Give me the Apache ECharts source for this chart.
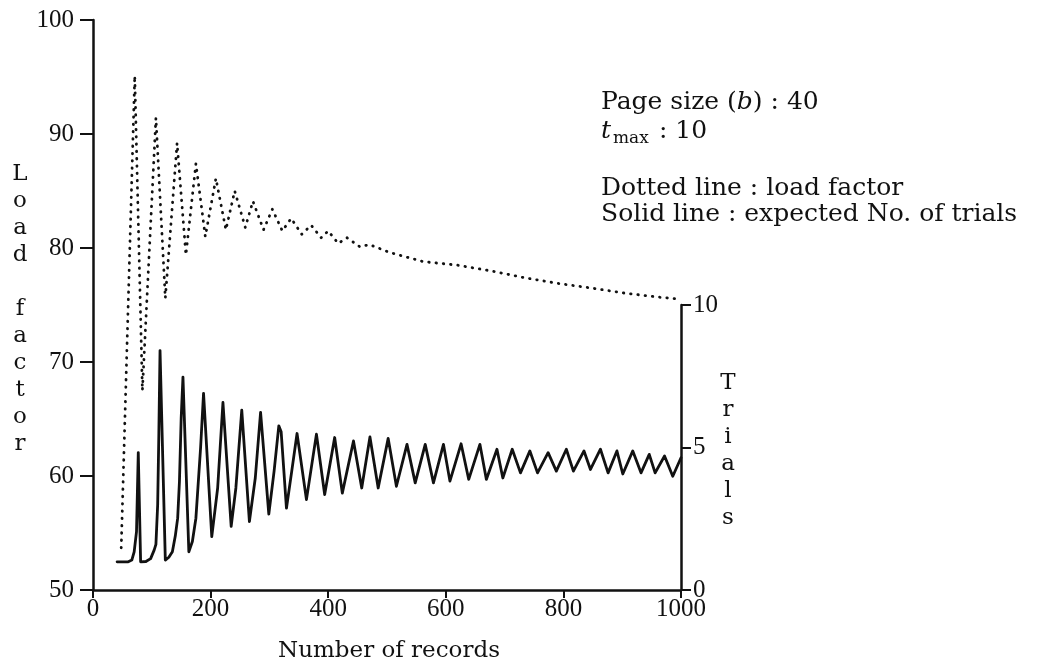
<!DOCTYPE html>
<html>
<head>
<meta charset="utf-8">
<script src="https://cdn.jsdelivr.net/npm/echarts@6/dist/echarts.min.js"></script>
<style>
  html, body { margin: 0; padding: 0; background: #fff; }
  #chart { width: 1040px; height: 667px; }
</style>
</head>
<body>
<div id="chart"></div>
<script>
// Load factor (dotted, left axis) against number of records
const loadRecords = [48, 71, 84, 107, 123, 143, 158, 175, 191, 209, 226, 241, 259, 272, 290, 305, 322, 337, 355, 371, 388, 400, 417, 432, 454, 470, 485, 505, 562, 619, 676, 733, 790, 846, 903, 960, 1000];
const loadFactor = [53.7, 95.1, 67.5, 91.4, 75.6, 89.2, 79.4, 87.4, 81.0, 86.1, 81.6, 85.0, 81.8, 84.1, 81.6, 83.4, 81.5, 82.6, 81.2, 82.0, 80.9, 81.5, 80.4, 80.9, 80.1, 80.3, 80.0, 79.6, 78.8, 78.5, 78.0, 77.4, 76.9, 76.5, 76.05, 75.7, 75.5];

// Expected number of trials (solid, right axis) against number of records
const trialRecords = [41, 60, 66, 70, 74, 77, 81, 90, 98, 104, 107, 110, 112, 114, 123, 129, 135, 140, 144, 147, 150, 153, 163, 169, 175, 183, 188, 202, 212, 221, 235, 243, 253, 266, 276, 285, 299, 308, 316, 320, 329, 338, 347, 363, 380, 394, 411, 424, 443, 457, 471, 485, 502, 516, 534, 548, 565, 579, 596, 607, 626, 639, 658, 669, 687, 697, 713, 727, 743, 756, 774, 788, 805, 817, 835, 846, 863, 876, 891, 901, 918, 932, 946, 956, 972, 986, 1000];
const trialValues = [0.99, 0.99, 1.05, 1.34, 2.05, 4.82, 0.99, 1.0, 1.1, 1.4, 1.6, 3.0, 5.5, 8.4, 1.05, 1.15, 1.34, 1.9, 2.52, 3.8, 6.05, 7.47, 1.34, 1.7, 2.52, 5.0, 6.9, 1.87, 3.58, 6.58, 2.23, 3.58, 6.31, 2.4, 3.93, 6.23, 2.66, 4.17, 5.76, 5.55, 2.87, 4.17, 5.49, 3.17, 5.47, 3.35, 5.35, 3.40, 5.23, 3.58, 5.37, 3.58, 5.32, 3.64, 5.11, 3.76, 5.11, 3.76, 5.11, 3.82, 5.13, 3.88, 5.11, 3.88, 4.94, 3.93, 4.94, 4.11, 4.88, 4.11, 4.82, 4.17, 4.94, 4.17, 4.88, 4.23, 4.94, 4.11, 4.88, 4.07, 4.88, 4.11, 4.76, 4.11, 4.70, 3.99, 4.64];

// Axis ranges and tick steps
const recordsRange = [0, 1000, 200];
const loadRange = [50, 100, 10];
const trialRange = [0, 10, 5];

const INK = '#111';
const TEXT_FONT = '"DejaVu Serif", serif';
const TICK_FONT = '"Liberation Serif", serif';

const loadData = loadRecords.map((x, i) => [x, loadFactor[i]]);
const trialData = trialRecords.map((x, i) => [x, trialValues[i]]);

const chart = echarts.init(document.getElementById('chart'), null, { renderer: 'canvas' });

const axisLine = { show: true, onZero: false, lineStyle: { color: INK, width: 2.5 } };
const tickLabel = { color: INK, fontFamily: TICK_FONT, fontSize: 25, formatter: v => String(v) };

chart.setOption({
  backgroundColor: '#fff',
  animation: false,
  grid: [
    { left: 93, right: 359, top: 20, bottom: 77 },
    { left: 93, right: 359, top: 305, bottom: 77 }
  ],
  xAxis: [
    {
      type: 'value', gridIndex: 0,
      min: recordsRange[0], max: recordsRange[1], interval: recordsRange[2],
      axisLine: axisLine,
      axisTick: { show: true, length: 8, lineStyle: { color: INK, width: 2 } },
      axisLabel: Object.assign({ margin: 7 }, tickLabel),
      splitLine: { show: false }
    },
    {
      type: 'value', gridIndex: 1, show: false,
      min: recordsRange[0], max: recordsRange[1]
    }
  ],
  yAxis: [
    {
      type: 'value', gridIndex: 0, position: 'left',
      min: loadRange[0], max: loadRange[1], interval: loadRange[2],
      axisLine: axisLine,
      axisTick: { show: true, length: 13, lineStyle: { color: INK, width: 2 } },
      axisLabel: Object.assign({ margin: 19 }, tickLabel),
      splitLine: { show: false }
    },
    {
      type: 'value', gridIndex: 1, position: 'right',
      min: trialRange[0], max: trialRange[1], interval: trialRange[2],
      axisLine: axisLine,
      axisTick: { show: true, length: 10, lineStyle: { color: INK, width: 2 } },
      axisLabel: Object.assign({ margin: 12 }, tickLabel),
      splitLine: { show: false }
    }
  ],
  series: [
    {
      name: 'load factor', type: 'line',
      xAxisIndex: 0, yAxisIndex: 0,
      data: loadData,
      showSymbol: false, silent: true,
      lineStyle: { color: INK, width: 2.8, type: [0.5, 6.8], cap: 'round', join: 'round' }
    },
    {
      name: 'expected No. of trials', type: 'line',
      xAxisIndex: 1, yAxisIndex: 1,
      data: trialData,
      showSymbol: false, silent: true,
      lineStyle: { color: INK, width: 2.8, join: 'round', cap: 'round' }
    }
  ],
  graphic: [
    // axis titles, one letter per line on the vertical axes
    {
      type: 'text', x: 20, y: 309,
      style: {
        text: 'Load factor'.split('').join('\n'),
        fill: INK, fontFamily: TEXT_FONT, fontSize: 23, lineHeight: 27,
        align: 'center', verticalAlign: 'middle'
      }
    },
    {
      type: 'text', x: 728, y: 451,
      style: {
        text: 'Trials'.split('').join('\n'),
        fill: INK, fontFamily: TEXT_FONT, fontSize: 23, lineHeight: 27,
        align: 'center', verticalAlign: 'middle'
      }
    },
    {
      type: 'text', x: 389, y: 651,
      style: {
        text: 'Number of records',
        fill: INK, fontFamily: TEXT_FONT, fontSize: 23,
        align: 'center', verticalAlign: 'middle'
      }
    },
    // parameter notes
    {
      type: 'text', x: 601, y: 102,
      style: {
        text: 'Page size ({i|b}) : 40',
        fill: INK, fontFamily: TEXT_FONT, fontSize: 25,
        align: 'left', verticalAlign: 'middle',
        rich: { i: { fontStyle: 'italic', fontFamily: TEXT_FONT, fontSize: 25, fill: INK } }
      }
    },
    {
      type: 'text', x: 601, y: 131,
      style: {
        text: 't', fill: INK, fontFamily: TEXT_FONT, fontSize: 25, fontStyle: 'italic',
        align: 'left', verticalAlign: 'middle'
      }
    },
    {
      type: 'text', x: 613, y: 139,
      style: {
        text: 'max', fill: INK, fontFamily: TEXT_FONT, fontSize: 17,
        align: 'left', verticalAlign: 'middle'
      }
    },
    {
      type: 'text', x: 659, y: 131,
      style: {
        text: ': 10', fill: INK, fontFamily: TEXT_FONT, fontSize: 25,
        align: 'left', verticalAlign: 'middle'
      }
    },
    {
      type: 'text', x: 601, y: 188,
      style: {
        text: 'Dotted line : load factor', fill: INK, fontFamily: TEXT_FONT, fontSize: 25,
        align: 'left', verticalAlign: 'middle'
      }
    },
    {
      type: 'text', x: 601, y: 214,
      style: {
        text: 'Solid line : expected No. of trials', fill: INK, fontFamily: TEXT_FONT, fontSize: 25,
        align: 'left', verticalAlign: 'middle'
      }
    }
  ]
});
</script>
</body>
</html>
